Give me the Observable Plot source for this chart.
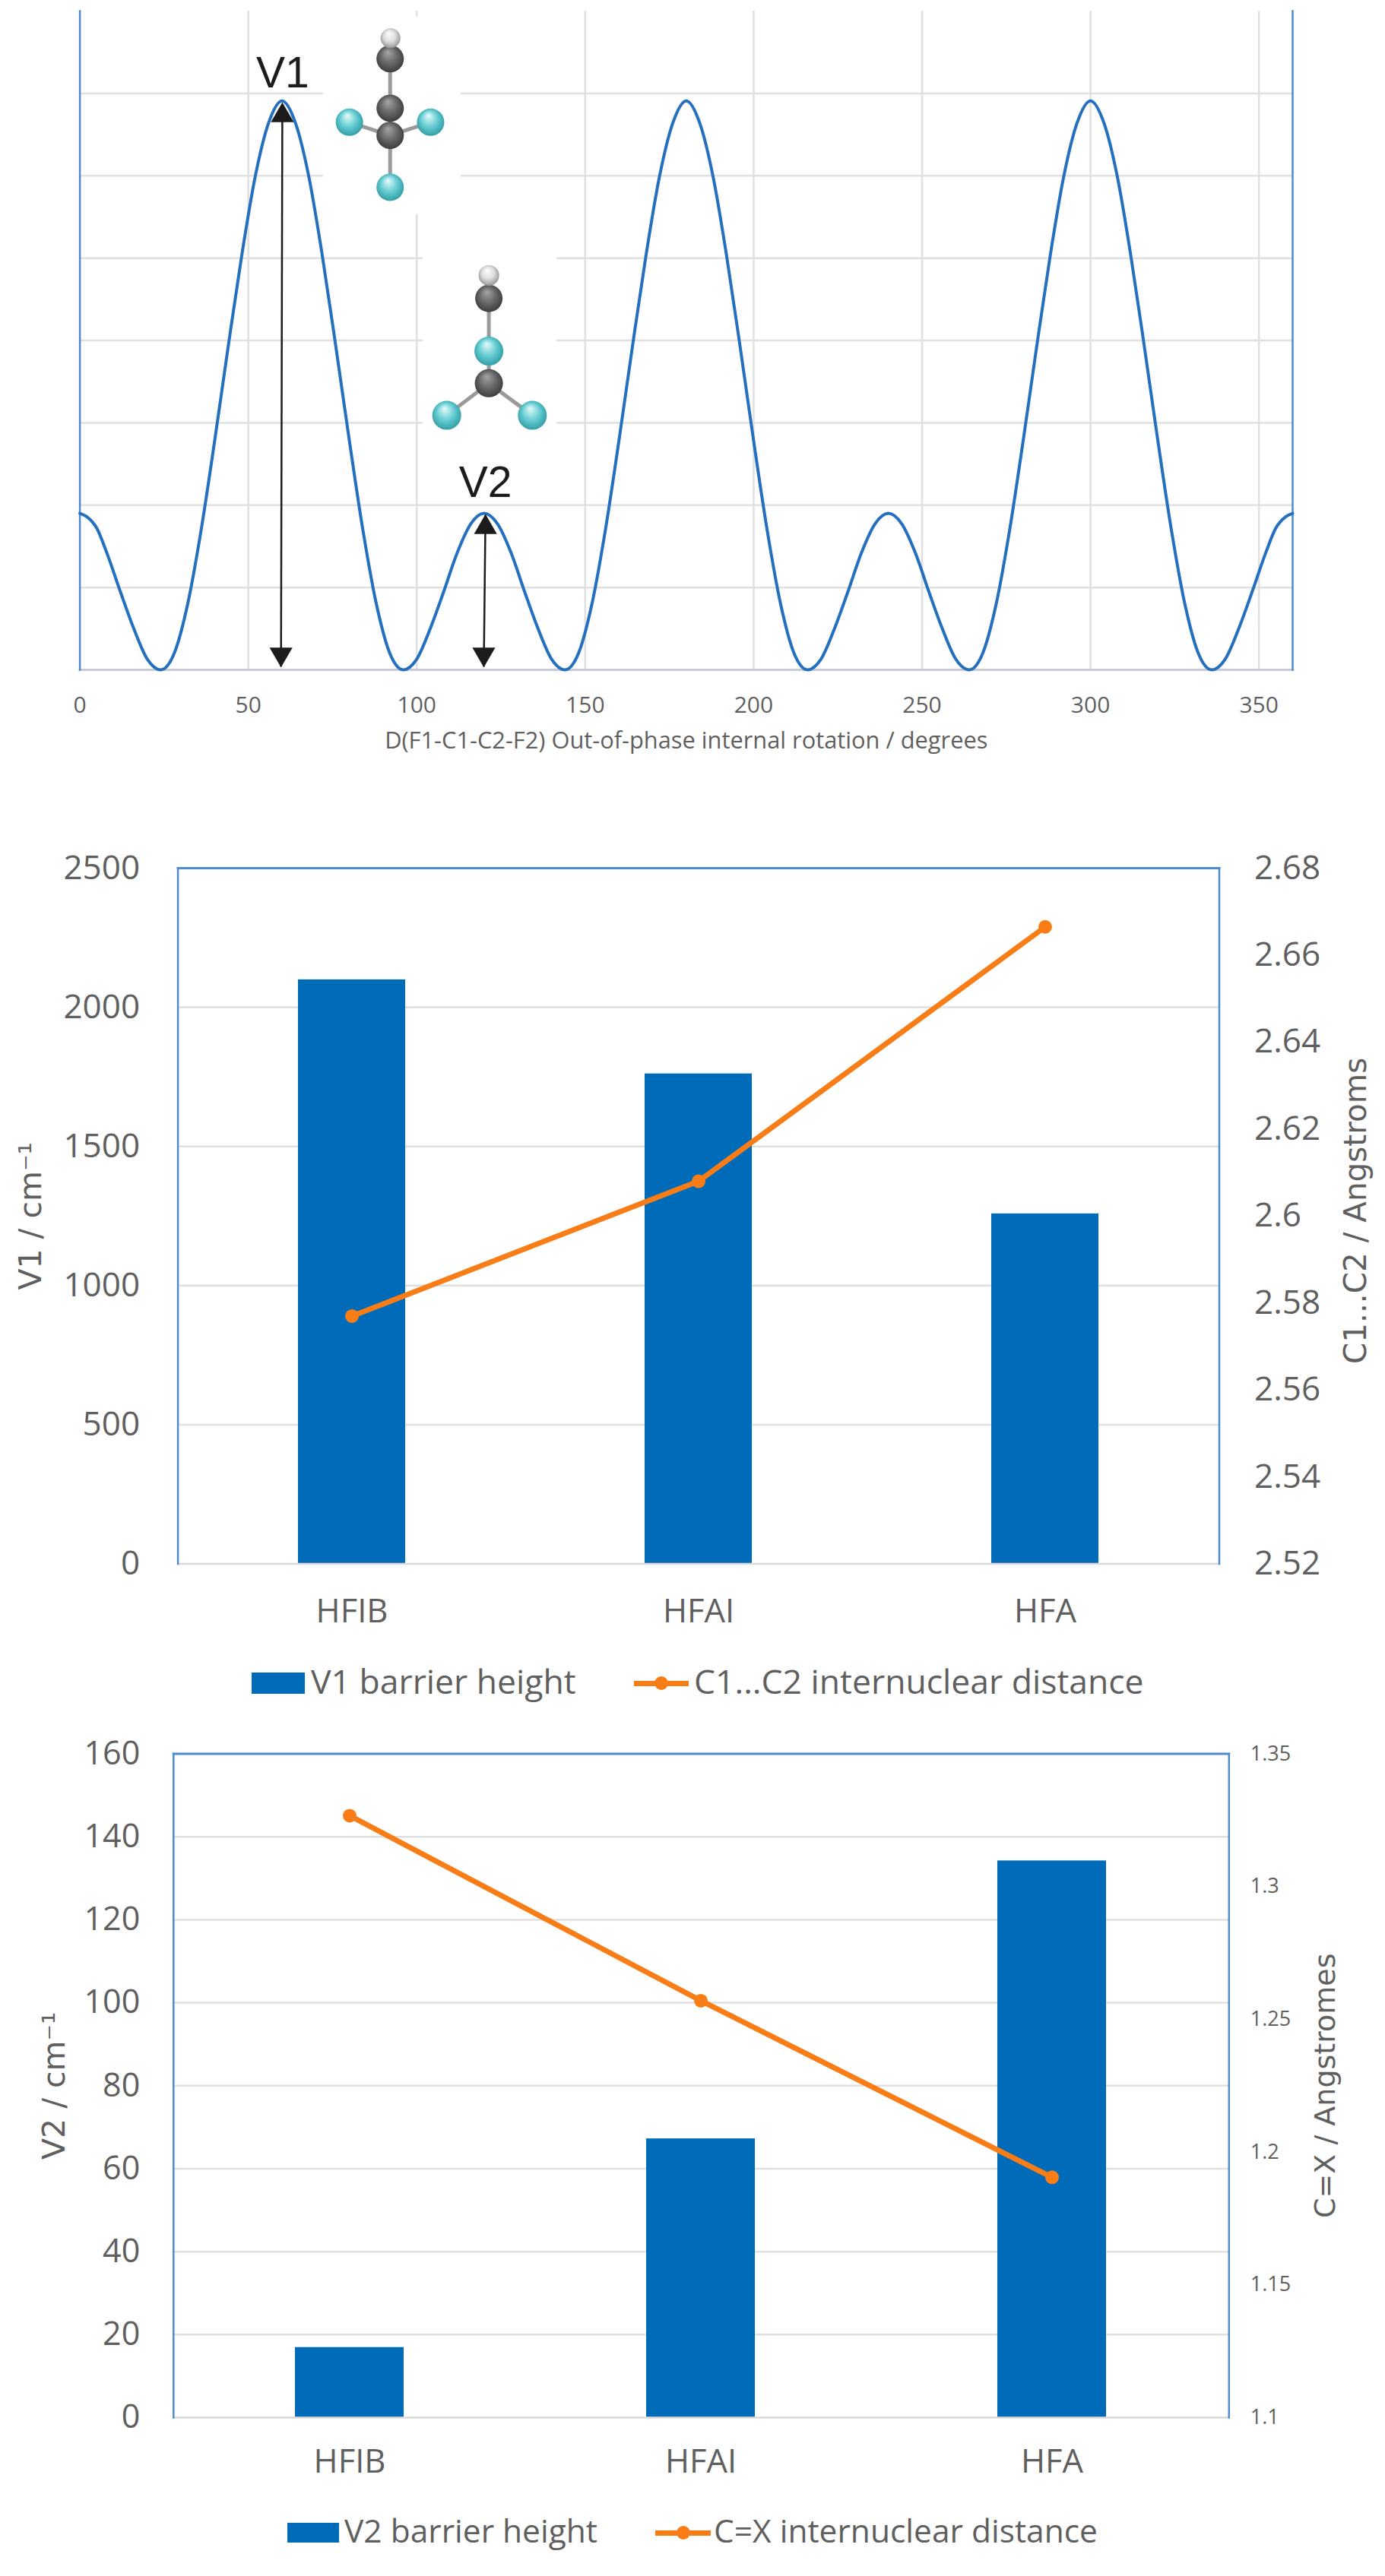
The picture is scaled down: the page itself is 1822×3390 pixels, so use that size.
<!DOCTYPE html>
<html>
<head>
<meta charset="utf-8">
<script src="https://cdn.jsdelivr.net/npm/d3@7"></script>
<script src="https://cdn.jsdelivr.net/npm/@observablehq/plot@0.6"></script>
<style>
html,body{margin:0;padding:0;background:#fff;}
#root{position:relative;width:1822px;height:3390px;overflow:hidden;background:#fff;}
#root svg{position:absolute;left:0;background:transparent;}
.leg{position:absolute;font-family:"Open Sans",sans-serif;color:#5f5f5f;white-space:nowrap;line-height:1;}
.sw{position:absolute;background:#006bb8;}
.ln{position:absolute;background:#f97d17;height:7px;}
.ln i{position:absolute;left:50%;top:50%;width:18px;height:18px;margin:-9px 0 0 -9px;border-radius:50%;background:#f97d17;}
</style>
</head>
<body>
<div id="root"></div>
<script>
// ---------- Chart 1: potential curve (angle in degrees, relative energy in grid units) ----------
const angle = [0,2,5,8,12,16,20,24,28,32,36,40,44,48,52,56,60,64,68,72,76,80,84,88,92,96,100,104,108,112,116,120,124,128,132,136,140,144,148,152,156,160,164,168,172,176,180,184,188,192,196,200,204,208,212,216,220,224,228,232,236,240,244,248,252,256,260,264,268,272,276,280,284,288,292,296,300,304,308,312,316,320,324,328,332,336,340,344,348,352,355,358,360];
const energy = [1.9,1.86,1.72,1.42,0.95,0.5,0.13,0,0.2,0.8,1.7,2.78,3.92,5.02,5.98,6.64,6.91,6.64,5.98,5.02,3.92,2.78,1.7,0.8,0.2,0,0.13,0.5,0.95,1.42,1.77,1.9,1.77,1.42,0.95,0.5,0.13,0,0.2,0.8,1.7,2.78,3.92,5.02,5.98,6.64,6.91,6.64,5.98,5.02,3.92,2.78,1.7,0.8,0.2,0,0.13,0.5,0.95,1.42,1.77,1.9,1.77,1.42,0.95,0.5,0.13,0,0.2,0.8,1.7,2.78,3.92,5.02,5.98,6.64,6.91,6.64,5.98,5.02,3.92,2.78,1.7,0.8,0.2,0,0.13,0.5,0.95,1.42,1.72,1.86,1.9];
const angleTicks = [0,50,100,150,200,250,300,350];
const angleGrid = [50,100,150,200,250,300,350];
const energyGrid = [1,2,3,4,5,6,7];
const angleTitle = "D(F1-C1-C2-F2) Out-of-phase internal rotation / degrees";

const peakLabels = ["V1","V2"];
const peakLabelX = [60.2,120.4];
const peakLabelY = [7.07,2.10];
const arrowTopX = [60.1,120.4];
const arrowTopTip = [6.87,1.88];
const arrowHeadTop = [6.73,1.73];
const arrowBottomX = [59.7,119.9];
const arrowBottomTip = [0.04,0.04];
const arrowHeadBottom = [0.19,0.19];

// white image backgrounds behind the molecule pictures
const maskX1 = [72.3,101.9];
const maskX2 = [113.1,141.6];
const maskY1 = [5.53,2.59];
const maskY2 = [7.93,5.45];

// atoms of the two molecule pictures
const atomKind = ["H","C","C","F","F","C","F","H","C","F","C","F","F"];
const atomX = [92.2,92.1,92.1,80.0,104.1,92.1,92.1,121.4,121.4,121.4,121.4,108.9,134.3];
const atomY = [7.67,7.42,6.82,6.65,6.65,6.49,5.86,4.79,4.51,3.87,3.48,3.09,3.09];
const atomR = [13,18,18,18,18,18,18,13.5,18,19,18.5,19,19];
const bondFrom = [0,1,2,5,5,5,7,8,9,10,10];
const bondTo   = [1,2,5,3,4,6,8,9,10,11,12];

// ---------- Chart 2 & 3 ----------
const molecules = ["HFIB","HFAI","HFA"];
const v1Height = [2099,1761,1258];
const c1c2Dist = [2.577,2.608,2.6665];
const v1Ticks = [0,500,1000,1500,2000,2500];
const c1c2Ticks = [2.52,2.54,2.56,2.58,2.6,2.62,2.64,2.66,2.68];
const v2Height = [16.9,67.2,134.2];
const cxDist = [1.3267,1.257,1.1905];
const v2Ticks = [0,20,40,60,80,100,120,140,160];
const cxTicks = [1.1,1.15,1.2,1.25,1.3,1.35];

const BLUE="#006bb8", ORANGE="#f97d17", EDGE="#4f8ad0", GRID="#e0e0e0", TXT="#5f5f5f", LINE="#2470bf";
const root = document.getElementById("root");
const font = "Open Sans, sans-serif";

function place(svg, top){ svg.style.top = top+"px"; root.appendChild(svg); return svg; }

function gradients(){
  const ns="http://www.w3.org/2000/svg";
  const defs=document.createElementNS(ns,"defs");
  const spec={H:["#ffffff","#dcdcdc","#7d7d7d"],C:["#a6a6a6","#666666","#2e2e2e"],F:["#e6fbfb","#63ccd2","#1f8c94"]};
  for(const k in spec){
    const g=document.createElementNS(ns,"radialGradient");
    g.setAttribute("id","atom"+k);
    g.setAttribute("cx","0.5"); g.setAttribute("cy","0.5"); g.setAttribute("r","0.62");
    g.setAttribute("fx","0.42"); g.setAttribute("fy","0.25");
    spec[k].forEach((c,i)=>{
      const s=document.createElementNS(ns,"stop");
      s.setAttribute("offset",[0,0.5,1][i]); s.setAttribute("stop-color",c); g.appendChild(s);
    });
    defs.appendChild(g);
  }
  return defs;
}

const curve = angle.map((a,i)=>({a,e:energy[i]}));
const masks = maskX1.map((x1,i)=>({x1,x2:maskX2[i],y1:maskY1[i],y2:maskY2[i]}));
const atoms = atomKind.map((k,i)=>({k,x:atomX[i],y:atomY[i],r:atomR[i]}));
const bonds = bondFrom.map((f,i)=>({a:atoms[f],b:atoms[bondTo[i]]}));
const peaks = peakLabels.map((t,i)=>({t,x:peakLabelX[i],y:peakLabelY[i],tx:arrowTopX[i],ty:arrowTopTip[i],thy:arrowHeadTop[i],bx:arrowBottomX[i],by:arrowBottomTip[i],bhy:arrowHeadBottom[i]}));

place(Plot.plot({
  width:1822,height:1010,marginLeft:104.6,marginRight:122,marginTop:14,marginBottom:129,
  style:{fontFamily:font,background:"transparent",color:TXT,overflow:"visible"},
  x:{domain:[0,360]},y:{domain:[0,8],axis:null},r:{type:"identity"},
  marks:[
    ()=>gradients(),
    Plot.ruleX(angleGrid,{x:d=>d,stroke:GRID,strokeWidth:2.5,strokeOpacity:1}),
    Plot.ruleY(energyGrid,{y:d=>d,stroke:GRID,strokeWidth:2.5,strokeOpacity:1}),
    Plot.rect(masks,{x1:"x1",x2:"x2",y1:"y1",y2:"y2",fill:"#fff"}),
    Plot.frame({anchor:"bottom",stroke:"#c9ccd6",strokeWidth:3}),
    Plot.frame({anchor:"left",stroke:EDGE,strokeWidth:2.5}),
    Plot.frame({anchor:"right",stroke:EDGE,strokeWidth:2.5}),
    Plot.axisX({ticks:angleTicks,tickSize:0,tickPadding:35,fontSize:30,label:null,color:TXT}),
    Plot.text([angleTitle],{frameAnchor:"bottom",dy:103,fontSize:30.8,fill:TXT}),
    Plot.line(curve,{x:"a",y:"e",stroke:LINE,strokeWidth:4,curve:"monotone-x"}),
    Plot.link(bonds,{x1:d=>d.a.x,y1:d=>d.a.y,x2:d=>d.b.x,y2:d=>d.b.y,stroke:"#9a9a9a",strokeWidth:5}),
    Plot.dot(atoms,{x:"x",y:"y",r:"r",fill:d=>`url(#atom${d.k})`}),
    Plot.link(peaks,{x1:"bx",y1:"by",x2:"tx",y2:"ty",stroke:"#1c1c1c",strokeWidth:2.5}),
    Plot.dot(peaks,{x:"tx",y:"thy",symbol:"triangle",r:11.2,fill:"#1c1c1c"}),
    Plot.dot(peaks,{x:"bx",y:"bhy",symbol:"triangle",r:11.2,fill:"#1c1c1c",rotate:180}),
    Plot.text(peaks,{x:"x",y:"y",text:"t",fontFamily:"Liberation Sans, sans-serif",fontSize:57,fill:"#1c1c1c",lineAnchor:"bottom"})
  ]
}),0);

function combo({top,height,marginLeft,marginRight,marginTop,marginBottom,values,dist,leftTicks,rightTicks,leftMax,rightDomain,leftFont,rightFont,leftPad,rightPad,catPad,leftTitle,rightTitle,leftTitleFont,rightTitleFont,leftDx,rightDx,rightDy}){
  const toLeft=d3.scaleLinear(rightDomain,[0,leftMax]);
  const rows=molecules.map((m,i)=>({m,v:values[i],d:toLeft(dist[i])}));
  const fmt=new Map(rightTicks.map(t=>[toLeft(t),String(t)]));
  return place(Plot.plot({
    width:1822,height,marginLeft,marginRight,marginTop,marginBottom,
    style:{fontFamily:font,background:"transparent",color:TXT,overflow:"visible"},
    x:{domain:molecules,paddingInner:0.69,paddingOuter:0.345,label:null},
    y:{domain:[0,leftMax],label:null},
    marks:[
      Plot.ruleY(leftTicks.filter(t=>t>0&&t<leftMax),{y:d=>d,stroke:GRID,strokeWidth:2.5,strokeOpacity:1}),
      Plot.barY(rows,{x:"m",y:"v",fill:BLUE}),
      Plot.frame({anchor:"bottom",stroke:"#d9d9d9",strokeWidth:2.5}),
      Plot.frame({anchor:"top",stroke:EDGE,strokeWidth:3}),
      Plot.frame({anchor:"left",stroke:EDGE,strokeWidth:2.5}),
      Plot.frame({anchor:"right",stroke:EDGE,strokeWidth:2.5}),
      Plot.axisY({anchor:"left",ticks:leftTicks,tickFormat:String,tickSize:0,tickPadding:leftPad,fontSize:leftFont,label:null,color:TXT}),
      Plot.axisY({anchor:"right",ticks:rightTicks.map(toLeft),tickFormat:t=>fmt.get(t),tickSize:0,tickPadding:rightPad,fontSize:rightFont,label:null,color:TXT}),
      Plot.axisX({ticks:molecules,tickSize:0,tickPadding:catPad,fontSize:43.5,label:null,color:TXT}),
      Plot.line(rows,{x:"m",y:"d",stroke:ORANGE,strokeWidth:7}),
      Plot.dot(rows,{x:"m",y:"d",r:9,fill:ORANGE}),
      Plot.text([leftTitle],{frameAnchor:"left",textAnchor:"middle",rotate:-90,dx:leftDx,fontFamily:"DejaVu Sans, sans-serif",fontSize:leftTitleFont,fill:TXT}),
      Plot.text([rightTitle],{frameAnchor:"right",textAnchor:"middle",rotate:-90,dx:rightDx,dy:rightDy,fontFamily:"DejaVu Sans, sans-serif",fontSize:rightTitleFont,fill:TXT})
    ]
  }),top);
}

combo({top:1090,height:1050,marginLeft:233.6,marginRight:218.5,marginTop:52,marginBottom:82.4,
  values:v1Height,dist:c1c2Dist,leftTicks:v1Ticks,rightTicks:c1c2Ticks,leftMax:2500,rightDomain:[2.52,2.68],
  leftFont:44,rightFont:44,leftPad:50,rightPad:46,catPad:46,leftTitle:"V1 / cm⁻¹",rightTitle:"C1...C2 / Angstroms",leftTitleFont:41,rightTitleFont:40.5,leftDx:-193,rightDx:180,rightDy:-7});
combo({top:2250,height:1010,marginLeft:227.8,marginRight:205.7,marginTop:57.5,marginBottom:79,
  values:v2Height,dist:cxDist,leftTicks:v2Ticks,rightTicks:cxTicks,leftMax:160,rightDomain:[1.1,1.35],
  leftFont:43,rightFont:27,leftPad:44,rightPad:28,catPad:42,leftTitle:"V2 / cm⁻¹",rightTitle:"C=X / Angstromes",leftTitleFont:41,rightTitleFont:38,leftDx:-156,rightDx:127,rightDy:0});

// ---------- Legends below the charts ----------
function legend(y,swL,swW,t1L,t1,lnL,lnW,t2L,t2,size,swH){
  const add=(cls,css,txt)=>{const e=document.createElement("div");e.className=cls;e.style.cssText=css;if(txt)e.textContent=txt;root.appendChild(e);return e;};
  add("sw",`left:${swL}px;top:${y-swH/2}px;width:${swW}px;height:${swH}px`);
  add("leg",`left:${t1L}px;top:${y-size*0.56}px;font-size:${size}px`,t1);
  const l=add("ln",`left:${lnL}px;top:${y-3.5}px;width:${lnW}px`);
  l.appendChild(document.createElement("i"));
  add("leg",`left:${t2L}px;top:${y-size*0.56}px;font-size:${size}px`,t2);
}
legend(2215,331,70,409,"V1 barrier height",834,72,913,"C1...C2 internuclear distance",44.5,28);
legend(3333,378,68,453,"V2 barrier height",862,73,939,"C=X internuclear distance",42.5,26);
</script>
</body>
</html>
